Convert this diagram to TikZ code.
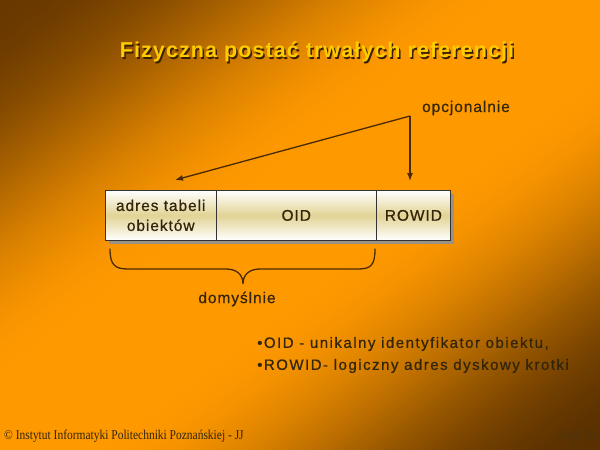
\documentclass[tikz,border=0pt]{standalone}
\usepackage{graphicx}
\usepackage{fontspec}
\setmainfont{Liberation Sans}
\newfontfamily\bodyft[LetterSpace=6,FakeBold=0.6]{Liberation Sans}
\newfontfamily\notesft[LetterSpace=10,FakeBold=0.6]{Liberation Sans}
\newfontfamily\titleft[LetterSpace=5]{Liberation Sans}
\newfontfamily\footft{Liberation Serif}
\usetikzlibrary{arrows.meta,shadows}
\definecolor{bgdark}{HTML}{683800}
\definecolor{bgdarkb}{HTML}{5A3000}
\definecolor{bgmid}{HTML}{FF9900}
\definecolor{cellmid}{HTML}{E2D394}
\definecolor{ink}{HTML}{33250A}
\definecolor{lineclr}{HTML}{4A2A00}
\definecolor{titleclr}{HTML}{FFCC00}
\definecolor{shadowclr}{HTML}{3A2000}
\definecolor{boxshadow}{HTML}{9A9285}
\definecolor{slideclr}{HTML}{4A3510}
\newcommand{\shadowedtitle}[1]{\makebox[0pt][l]{\hspace{1.5pt}\raisebox{-1.5pt}{\textcolor{shadowclr}{#1}}}\textcolor{titleclr}{#1}}
\tikzset{
  cell/.style={draw=black!80, line width=0.8pt, top color=white, bottom color=white,
    middle color=cellmid, minimum height=50pt, inner sep=0pt, anchor=north west,
    text=ink, align=center,
    font=\bodyft\fontsize{15.5}{20}\selectfont,
    drop shadow={shadow xshift=4pt, shadow yshift=-4pt, fill=boxshadow, opacity=1}},
  lbl/.style={text=ink, inner sep=0pt, font=\bodyft\fontsize{15.5}{20}\selectfont},
  conn/.style={draw=lineclr, line width=1.3pt, -{Latex[length=8pt,width=6pt]}},
  bracestyle/.style={draw=lineclr, line width=1.3pt, line cap=round},
  footstyle/.style={inner sep=0pt, font=\footft\fontsize{13.5}{15}\selectfont},
}
\begin{document}
\begin{tikzpicture}[x=1pt,y=-1pt]
\useasboundingbox (0,0) rectangle (600,450);
% background: diagonal gradient, iso-lines parallel to the anti-diagonal
\begin{scope}
\clip (0,0) rectangle (600,450);
\foreach \i in {0,...,199}{
  \pgfmathsetmacro\ta{\i/100}
  \pgfmathsetmacro\tb{(\i+1.6)/100}
  \pgfmathsetmacro\tm{(\i+0.5)/100}
  \pgfmathsetmacro\mm{min(\tm,2-\tm,0.85)}
  \pgfmathsetmacro\pct{100*pow(sin(90*\mm/0.85),2)}
  \ifdim\tm pt<1pt \colorlet{stripc}{bgmid!\pct!bgdark}\else \colorlet{stripc}{bgmid!\pct!bgdarkb}\fi
  \fill[stripc] (600*\ta+600,-450) -- (600*\ta-600,450) -- (600*\tb-600,450) -- (600*\tb+600,-450) -- cycle;
}
\end{scope}
% title
\node[font=\titleft\bfseries\fontsize{21.5}{25}\selectfont] (title) at (317,53)
  {\shadowedtitle{Fizyczna postać trwałych referencji}};
% box
\node[cell, minimum width=110.7pt] (a) at (105,190) {adres tabeli\\obiektów};
\node[cell, minimum width=160.3pt] (b) at (215.7,190) {OID};
\node[cell, minimum width=74pt] (c) at (376,190) {ROWID};
% labels
\node[lbl] (opt) at (466,108) {opcjonalnie};
\node[lbl] (dom) at (237,299) {domyślnie};
% arrows
\coordinate (split) at (410,116);
\coordinate (endA) at (175,180);
\coordinate (endC) at (410,181);
\draw[conn] (split) -- (endA);
\draw[conn] (split) -- (endC);
% brace
\draw[bracestyle] (110,249) .. controls (110,265) and (115,269) .. (128,269)
  -- (226,269) .. controls (236,269) and (243,274) .. (243,284)
  .. controls (243,274) and (250,269) .. (260,269)
  -- (358,269) .. controls (371,269) and (375,265) .. (375,249);
% bullets
\node[lbl, anchor=west, align=left, font=\notesft\fontsize{15}{22}\selectfont] (notes) at (257,355)
  {•OID - unikalny identyfikator obiektu,\\•ROWID- logiczny adres dyskowy krotki};
% footer
\node[footstyle, anchor=west, text=ink] (foot) at (4,436)
  {\scalebox{0.85}[1]{© Instytut Informatyki Politechniki Poznańskiej - JJ}};
\node[footstyle, anchor=east, text=slideclr] (slide) at (596,436)
  {\scalebox{0.85}[1]{Slajd 30}};
\end{tikzpicture}
\end{document}
